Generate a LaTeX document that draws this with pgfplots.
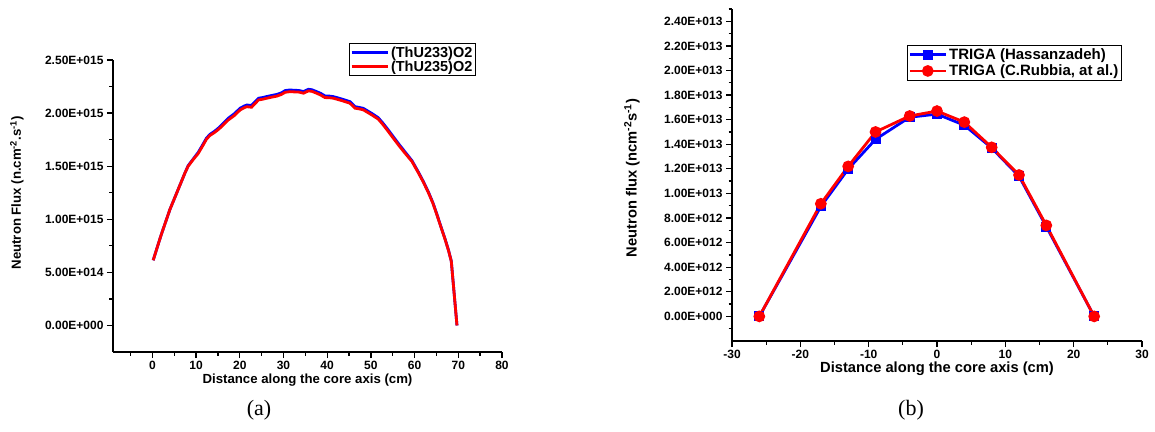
\documentclass[border=0pt]{standalone}
\usepackage{fontspec}
\setmainfont{Liberation Sans}
\newfontfamily\timesfont{Liberation Serif}
\usepackage{pgfplots}
\pgfplotsset{compat=1.18}

\pgfplotsset{
  flux/.style={
    scale only axis, anchor=south west,
    axis x line*=bottom, axis y line*=left,
    axis line style={-, line width=1.8pt, black},
    every outer x axis line/.append style={-},
    every outer y axis line/.append style={-},
    tick align=outside,
    major tick length=6pt, minor tick length=3.5pt,
    tick style={line width=1.3pt, black},
    scaled ticks=false,
    tick label style={font=\bfseries\fontsize{12}{12}\selectfont},
    legend cell align=left,
    legend style={draw=black, line width=1.1pt, inner sep=1pt},
    clip=false,
  },
  lineleg/.style={legend image code/.code={
      \draw[##1] (0pt,0pt) -- (36pt,0pt);}},
  markleg/.style={legend image code/.code={
      \draw[##1,mark repeat=2,mark phase=2] plot coordinates {(0pt,0pt) (18pt,0pt) (36pt,0pt)};}},
}

\begin{document}
\begin{tikzpicture}
\useasboundingbox (0pt,0pt) rectangle (1155pt,431pt);

% (a) flux along the core axis
\begin{axis}[flux, lineleg,
  at={(113pt,79pt)}, width=389pt, height=292pt,
  xmin=-9, xmax=80, ymin=-0.25e15, ymax=2.5e15,
  xtick={0,10,20,30,40,50,60,70,80},
  xticklabels={0,10,20,30,40,50,60,70,80},
  minor xtick={-5,5,15,25,35,45,55,65,75},
  ytick={0,0.5e15,1e15,1.5e15,2e15,2.5e15},
  yticklabels={0.00E+000,5.00E+014,1.00E+015,1.50E+015,2.00E+015,2.50E+015},
  minor ytick={0.25e15,0.75e15,1.25e15,1.75e15,2.25e15},
  label style={font=\bfseries\fontsize{13.2}{14}\selectfont},
  xlabel={Distance along the core axis (cm)},
  ylabel={Neutron Flux (n.cm\textsuperscript{-2}.s\textsuperscript{-1})},
  x label style={at={(axis description cs:0.5,-0.096)}, anchor=center},
  y label style={at={(axis description cs:-0.247,0.545)}, anchor=center},
  legend style={at={(0.933,1.058)}, anchor=north east,
    font=\bfseries\fontsize{14.5}{15}\selectfont, row sep=-2pt},
]
\addplot[blue, line width=2.8pt] coordinates {
(0.2,0.614e15)(1.0,0.72e15)(2.0,0.85e15)(3.0,0.97e15)(4.0,1.09e15)(4.8,1.17e15)
(5.8,1.27e15)(6.7,1.36e15)(7.5,1.44e15)(8.2,1.505e15)(9.3,1.565e15)(10.5,1.63e15)
(11.5,1.70e15)(12.4,1.765e15)(13.2,1.80e15)(14.0,1.822e15)(14.8,1.847e15)(15.6,1.877e15)
(16.5,1.915e15)(17.4,1.952e15)(18.7,1.992e15)(20.1,2.046e15)(21.0,2.066e15)(21.6,2.076e15)
(22.7,2.072e15)(23.5,2.106e15)(24.3,2.14e15)(25.2,2.146e15)(26.2,2.156e15)(27.3,2.166e15)
(28.5,2.176e15)(29.5,2.19e15)(30.4,2.212e15)(31.5,2.218e15)(32.3,2.215e15)(33.5,2.213e15)
(34.6,2.203e15)(35.7,2.224e15)(36.5,2.22e15)(37.6,2.202e15)(38.5,2.186e15)(39.5,2.162e15)
(40.5,2.16e15)(41.4,2.155e15)(42.3,2.145e15)(43.3,2.133e15)(44.3,2.12e15)(45.2,2.108e15)
(46.4,2.06e15)(47.3,2.054e15)(48.3,2.044e15)(49.3,2.019e15)(50.2,1.997e15)(51.7,1.956e15)
(52.8,1.903e15)(54.0,1.84e15)(55.2,1.774e15)(56.3,1.713e15)(57.8,1.635e15)(59.4,1.552e15)
(60.9,1.442e15)(62.0,1.356e15)(63.2,1.253e15)(64.2,1.155e15)(65.1,1.048e15)(66.0,0.934e15)
(67.0,0.811e15)(67.8,0.703e15)(68.4,0.606e15)(69.7,0)
};
\addlegendentry{(ThU233)O2}
\addplot[red, line width=2.8pt] coordinates {
(0.2,0.614e15)(1.0,0.72e15)(2.0,0.85e15)(3.0,0.97e15)(4.0,1.09e15)(4.8,1.17e15)
(5.8,1.27e15)(6.7,1.36e15)(7.5,1.44e15)(8.2,1.50e15)(9.3,1.56e15)(10.5,1.62e15)
(11.5,1.69e15)(12.4,1.755e15)(13.2,1.79e15)(14.0,1.811e15)(14.8,1.835e15)(15.6,1.864e15)
(16.5,1.90e15)(17.4,1.936e15)(18.7,1.975e15)(20.1,2.03e15)(21.0,2.05e15)(21.6,2.06e15)
(22.7,2.055e15)(23.5,2.09e15)(24.3,2.124e15)(25.2,2.13e15)(26.2,2.14e15)(27.3,2.15e15)
(28.5,2.16e15)(29.5,2.175e15)(30.4,2.196e15)(31.5,2.202e15)(32.3,2.20e15)(33.5,2.198e15)
(34.6,2.187e15)(35.7,2.209e15)(36.5,2.205e15)(37.6,2.187e15)(38.5,2.17e15)(39.5,2.146e15)
(40.5,2.145e15)(41.4,2.14e15)(42.3,2.13e15)(43.3,2.118e15)(44.3,2.105e15)(45.2,2.093e15)
(46.4,2.046e15)(47.3,2.04e15)(48.3,2.03e15)(49.3,2.005e15)(50.2,1.983e15)(51.7,1.943e15)
(52.8,1.89e15)(54.0,1.826e15)(55.2,1.76e15)(56.3,1.70e15)(57.8,1.623e15)(59.4,1.544e15)
(60.9,1.435e15)(62.0,1.35e15)(63.2,1.247e15)(64.2,1.15e15)(65.1,1.043e15)(66.0,0.93e15)
(67.0,0.808e15)(67.8,0.70e15)(68.4,0.604e15)(69.7,0)
};
\addlegendentry{(ThU235)O2}
\end{axis}

% (b) TRIGA comparison
\begin{axis}[flux, markleg,
  at={(732pt,90pt)}, width=410pt, height=332pt,
  xmin=-30, xmax=30, ymin=-2e12, ymax=2.5e13,
  xtick={-30,-20,-10,0,10,20,30},
  xticklabels={-30,-20,-10,0,10,20,30},
  minor xtick={-25,-15,-5,5,15,25},
  ytick={0,2e12,4e12,6e12,8e12,1e13,1.2e13,1.4e13,1.6e13,1.8e13,2e13,2.2e13,2.4e13},
  yticklabels={0.00E+000,2.00E+012,4.00E+012,6.00E+012,8.00E+012,1.00E+013,1.20E+013,
    1.40E+013,1.60E+013,1.80E+013,2.00E+013,2.20E+013,2.40E+013},
  minor ytick={-1e12,1e12,3e12,5e12,7e12,9e12,1.1e13,1.3e13,1.5e13,1.7e13,1.9e13,2.1e13,2.3e13,2.5e13},
  label style={font=\bfseries\fontsize{14.7}{15}\selectfont},
  xlabel={Distance along the core axis (cm)},
  ylabel={Neutron flux (ncm\textsuperscript{-2}s\textsuperscript{-1})},
  x label style={at={(axis description cs:0.5,-0.084)}, anchor=center},
  y label style={at={(axis description cs:-0.244,0.491)}, anchor=center},
  legend style={at={(0.951,0.892)}, anchor=north east,
    font=\bfseries\fontsize{15}{16}\selectfont, row sep=0pt},
]
\addplot[blue, line width=2.8pt, mark=square*, mark size=3.6pt] coordinates {
(-26,0)(-17,8.94e12)(-13,11.98e12)(-9,14.4e12)(-4,16.2e12)(0,16.45e12)
(4,15.55e12)(8,13.7e12)(12,11.4e12)(16,7.3e12)(23,0)
};
\addlegendentry{TRIGA (Hassanzadeh)}
\addplot[red, line width=2.8pt, mark=*, mark size=4.4pt] coordinates {
(-26,0)(-17,9.16e12)(-13,12.2e12)(-9,15.0e12)(-4,16.3e12)(0,16.7e12)
(4,15.8e12)(8,13.75e12)(12,11.5e12)(16,7.4e12)(23,0)
};
\addlegendentry{TRIGA (C.Rubbia, at al.)}
\end{axis}

\node[font=\timesfont\fontsize{22}{22}\selectfont] at (259pt,21pt) {(a)};
\node[font=\timesfont\fontsize{22}{22}\selectfont] at (911pt,21pt) {(b)};
\end{tikzpicture}
\end{document}
